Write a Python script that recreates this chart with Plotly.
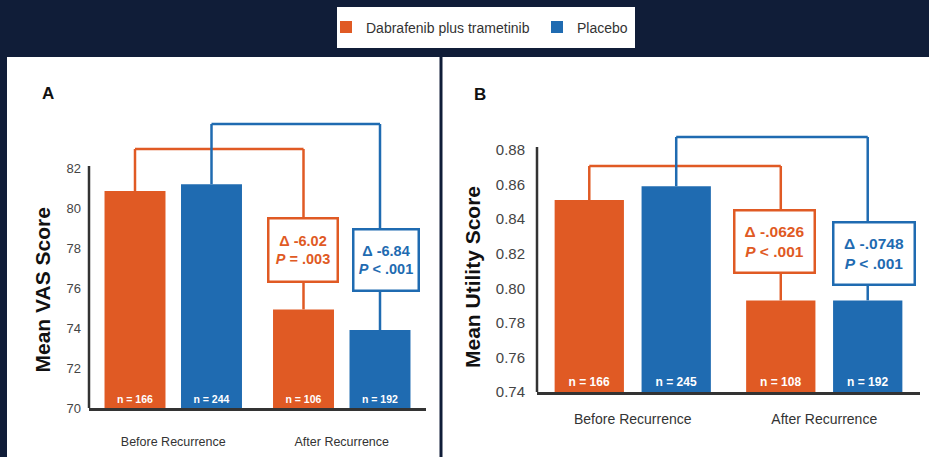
import plotly.graph_objects as go

# ---- data ----
categories = ["Before Recurrence", "After Recurrence"]
groups = ["Dabrafenib plus trametinib", "Placebo"]

vas_dt = [80.85, 74.93]
vas_pbo = [81.19, 73.90]
vas_n_dt = [166, 106]
vas_n_pbo = [244, 192]
vas_delta = ["Δ -6.02", "Δ -6.84"]
vas_p = ["= .003", "< .001"]

util_dt = [0.851, 0.793]
util_pbo = [0.859, 0.793]
util_n_dt = [166, 108]
util_n_pbo = [245, 192]
util_delta = ["Δ -.0626", "Δ -.0748"]
util_p = ["< .001", "< .001"]

vas_ticks = [70, 72, 74, 76, 78, 80, 82]
util_ticks = [0.74, 0.76, 0.78, 0.80, 0.82, 0.84, 0.86, 0.88]
vas_base = 70
util_base = 0.74

# ---- styling ----
W, H = 929, 457
NAVY = "#101d38"
ORANGE = "#e05a24"
BLUE = "#1f6bb1"
AXIS = "#333333"
SANS = "Liberation Sans, Arial, sans-serif"
BARGAP = 0.092
HALF = (1 - BARGAP) / 4  # centre offset of each bar inside a category


def px_x(p):
    return p / W


def px_y(p):
    return 1 - p / H


fig = go.Figure()

panels = [
    dict(xa="x", ya="y", dt=vas_dt, pbo=vas_pbo, n_dt=vas_n_dt, n_pbo=vas_n_pbo,
         base=vas_base, nsize=10.5, legend=True),
    dict(xa="x2", ya="y2", dt=util_dt, pbo=util_pbo, n_dt=util_n_dt, n_pbo=util_n_pbo,
         base=util_base, nsize=12, legend=False),
]
for p in panels:
    for name, vals, ns, color in [(groups[0], p["dt"], p["n_dt"], ORANGE),
                                  (groups[1], p["pbo"], p["n_pbo"], BLUE)]:
        fig.add_trace(go.Bar(
            x=categories, y=[v - p["base"] for v in vals], base=p["base"], name=name,
            marker=dict(color=color, line=dict(width=0)),
            text=[f"n = {n}" for n in ns], textposition="inside", insidetextanchor="start",
            textangle=0, textfont=dict(family=SANS, size=p["nsize"], color="white", weight="bold"),
            xaxis=p["xa"], yaxis=p["ya"], showlegend=p["legend"], hoverinfo="skip",
        ))

shapes = [
    # white panels
    dict(type="rect", xref="paper", yref="paper", x0=px_x(7), x1=px_x(439.5), y0=-0.05, y1=px_y(57),
         fillcolor="white", line=dict(width=0), layer="below"),
    dict(type="rect", xref="paper", yref="paper", x0=px_x(442.5), x1=1.05, y0=-0.05, y1=px_y(57),
         fillcolor="white", line=dict(width=0), layer="below"),
    # legend box
    dict(type="rect", xref="paper", yref="paper", x0=px_x(337), x1=px_x(635), y0=px_y(48), y1=px_y(7),
         fillcolor="white", line=dict(width=0), layer="below"),
]

# y axis lines (stop at top tick, like the original)
shapes.append(dict(type="line", xref="x domain", yref="y", x0=0, x1=0, y0=70, y1=82.1,
                   line=dict(color=AXIS, width=2.5)))
shapes.append(dict(type="line", xref="x2 domain", yref="y2", x0=0, x1=0, y0=0.74, y1=0.8817,
                   line=dict(color=AXIS, width=2.5)))


def bracket(xr, yr, before, after, top, color):
    return [
        dict(type="line", xref=xr, yref=yr, x0=before[0], x1=before[0], y0=before[1], y1=top,
             line=dict(color=color, width=2.5)),
        dict(type="line", xref=xr, yref=yr, x0=before[0], x1=after[0], y0=top, y1=top,
             line=dict(color=color, width=2.5)),
        dict(type="line", xref=xr, yref=yr, x0=after[0], x1=after[0], y0=top, y1=after[1],
             line=dict(color=color, width=2.5)),
    ]


shapes += bracket("x", "y", (-HALF, vas_dt[0]), (1 - HALF, vas_dt[1]), 82.95, ORANGE)
shapes += bracket("x", "y", (HALF, vas_pbo[0]), (1 + HALF, vas_pbo[1]), 84.2, BLUE)
shapes += bracket("x2", "y2", (-HALF, util_dt[0]), (1 - HALF, util_dt[1]), 0.8707, ORANGE)
shapes += bracket("x2", "y2", (HALF, util_pbo[0]), (1 + HALF, util_pbo[1]), 0.8875, BLUE)

annotations = []


def stat_box(xr, yr, x, y, delta, pval, color, size, w, h, xshift):
    return dict(
        xref=xr, yref=yr, x=x, y=y, xshift=xshift, showarrow=False,
        text=f"<b>{delta}</b><br><b><i>P</i> {pval}</b>",
        font=dict(family=SANS, size=size, color=color),
        bgcolor="white", bordercolor=color, borderwidth=2.5, borderpad=0,
        width=w, height=h, align="center", valign="middle",
    )


annotations.append(stat_box("x", "y", 1 - HALF, 77.9, vas_delta[0], vas_p[0], ORANGE, 14.5, 67, 61, -1))
annotations.append(stat_box("x", "y", 1 + HALF, 77.4, vas_delta[1], vas_p[1], BLUE, 14.5, 63, 59, 6))
annotations.append(stat_box("x2", "y2", 1 - HALF, 0.8271, util_delta[0], util_p[0], ORANGE, 15.5, 78, 60, -6))
annotations.append(stat_box("x2", "y2", 1 + HALF, 0.8201, util_delta[1], util_p[1], BLUE, 15.5, 79, 60, 6))

# panel letters and y titles
annotations += [
    dict(xref="paper", yref="paper", x=px_x(40), y=px_y(82), text="<b>A</b>", showarrow=False,
         font=dict(family=SANS, size=17, color="#111111")),
    dict(xref="paper", yref="paper", x=px_x(480), y=px_y(83), text="<b>B</b>", showarrow=False,
         font=dict(family=SANS, size=17, color="#111111")),
    dict(xref="paper", yref="paper", x=px_x(28), y=px_y(290), text="<b>Mean VAS Score</b>", textangle=-90,
         showarrow=False, font=dict(family=SANS, size=21, color="#111111")),
    dict(xref="paper", yref="paper", x=px_x(472), y=px_y(277), text="<b>Mean Utility Score</b>", textangle=-90,
         showarrow=False, font=dict(family=SANS, size=21, color="#111111")),
]

axis_common = dict(ticks="", showgrid=False, zeroline=False, automargin=False, fixedrange=True)

fig.update_layout(
    width=W, height=H, margin=dict(l=0, r=0, t=0, b=0, pad=0, autoexpand=False),
    paper_bgcolor=NAVY, plot_bgcolor="rgba(0,0,0,0)",
    barmode="group", bargap=BARGAP, bargroupgap=0.203,
    shapes=shapes, annotations=annotations,
    legend=dict(orientation="h", x=px_x(326), xanchor="left", y=px_y(27.5), yanchor="middle",
                bgcolor="rgba(0,0,0,0)", font=dict(family=SANS, size=14, color="#333333"),
                itemwidth=30, entrywidth=166, traceorder="normal"),
    xaxis=dict(domain=[px_x(89), px_x(426)], range=[-0.5, 1.5], showline=True, linewidth=3,
               linecolor=AXIS, ticklabelstandoff=20,
               tickfont=dict(family=SANS, size=12.5, color="#333333"), **axis_common),
    yaxis=dict(domain=[px_y(408), px_y(108)], range=[70, 85], tickvals=vas_ticks, showline=False,
               ticklabelstandoff=7, tickfont=dict(family=SANS, size=13, color="#444444"), **axis_common),
    xaxis2=dict(domain=[px_x(537), px_x(920)], range=[-0.5, 1.5], anchor="y2", showline=True, linewidth=3,
                linecolor=AXIS, ticklabelstandoff=12,
                tickfont=dict(family=SANS, size=14, color="#333333"), **axis_common),
    yaxis2=dict(domain=[px_y(392), px_y(115.4)], range=[0.74, 0.90], anchor="x2", tickvals=util_ticks,
                tickformat=".2f", showline=False, ticklabelstandoff=11,
                tickfont=dict(family=SANS, size=15, color="#444444"), **axis_common),
)

# the page's default body margin would shift the figure; remove it
fig.write_html("out.html", config={"displayModeBar": False},
               post_script="document.body.style.margin='0';"
                           "document.body.style.background='" + NAVY + "';")
